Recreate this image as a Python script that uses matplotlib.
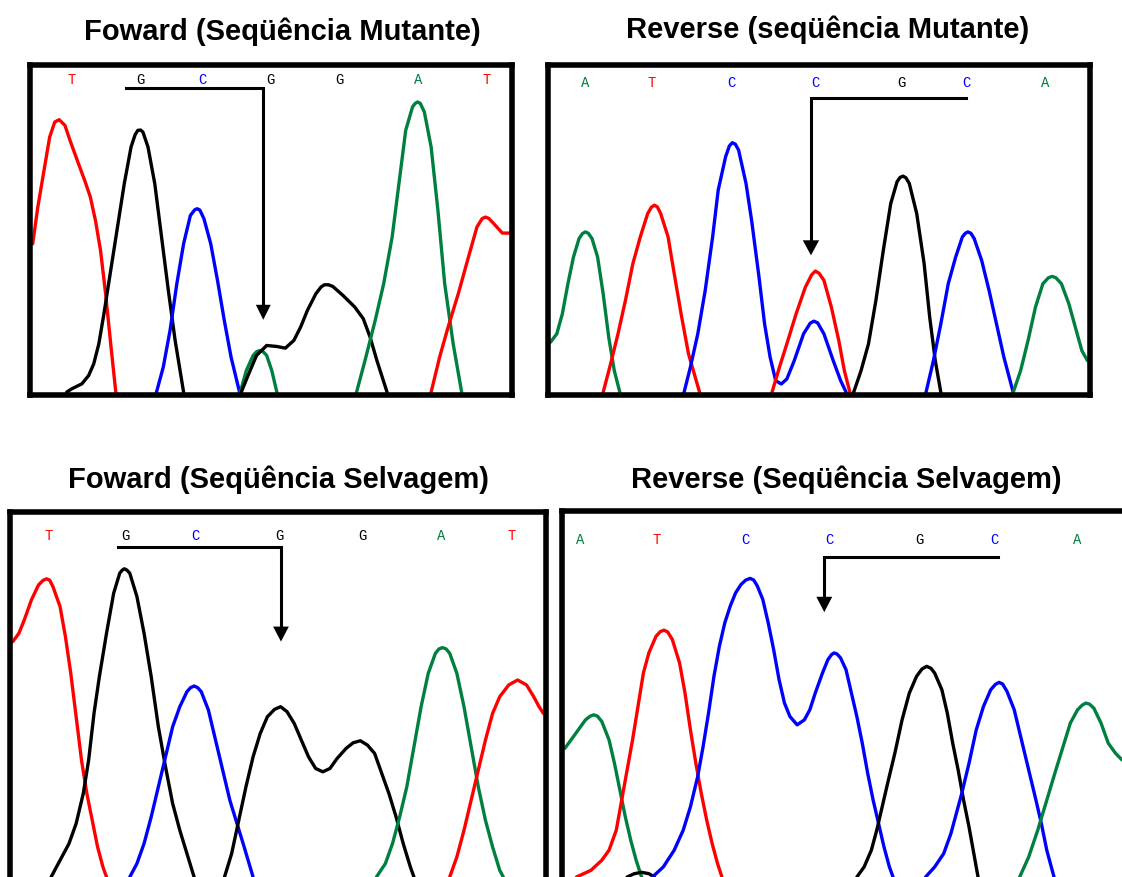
import matplotlib
matplotlib.use("Agg")
import matplotlib.pyplot as plt

W, H = 1122, 877
DPI = 100

# ---------------- Data (scan position, signal intensity) ----------------
# Panel 1: Foward (Seqüência Mutante)
p1_T1 = [(0,445),(15,555),(30,645),(50,765),(65,810),(78,817),(95,800),(110,755),(135,685),(155,630),(170,585),(185,515),(200,425),(215,295),(230,145),(245,0)]
p1_G1 = [(100,0),(115,10),(145,25),(165,50),(180,85),(195,145),(210,235),(230,365),(250,495),(270,625),(290,735),(302,772),(310,785),(318,786),(325,780),(340,735),(360,625),(380,465),(400,305),(420,155),(445,0)]
p1_C1 = [(365,0),(385,75),(405,185),(425,325),(445,445),(465,530),(478,547),(485,550),(493,546),(505,520),(525,445),(545,335),(565,215),(585,105),(610,0)]
p1_A1 = [(612,0),(630,65),(650,110),(660,121),(670,125),(680,121),(690,110),(705,65),(720,0)]
p1_G2 = [(615,0),(635,50),(660,110),(690,140),(720,137),(745,132),(770,155),(790,195),(810,245),(835,295),(850,315),(860,322),(872,322),(885,317),(915,290),(950,255),(975,220),(995,165),(1015,95),(1045,0)]
p1_A2 = [(955,0),(980,95),(1010,215),(1035,325),(1060,465),(1080,625),(1100,785),(1120,855),(1128,866),(1135,870),(1143,866),(1155,840),(1175,735),(1195,545),(1215,325),(1240,145),(1265,0)]
p1_T2 = [(1175,0),(1200,105),(1225,195),(1255,295),(1285,405),(1310,495),(1325,520),(1335,525),(1345,521),(1360,505),(1385,477),(1405,477)]
p1_bases = ["T", "G", "C", "G", "G", "A", "T"]
p1_base_pos = [115, 318, 500, 700, 905, 1138, 1338]

# Panel 2: Reverse (seqüência Mutante)
p2_A1 = [(0,150),(17,175),(32,235),(47,325),(62,405),(77,460),(86,475),(94,480),(102,476),(112,460),(127,405),(142,295),(157,165),(172,65),(187,0)]
p2_T1 = [(142,0),(162,85),(182,175),(202,275),(222,385),(242,465),(262,535),(272,554),(280,560),(288,555),(297,535),(317,465),(332,365),(352,235),(372,115),(402,0)]
p2_C1 = [(360,0),(377,75),(397,175),(417,305),(437,465),(452,605),(472,705),(482,737),(490,747),(498,743),(507,725),(527,625),(542,515),(562,345),(577,205),(592,105),(607,35),(622,25),(637,40),(657,95),(682,175),(700,207),(710,213),(720,208),(737,175),(762,95),(782,35),(797,0)]
p2_T2 = [(597,0),(617,75),(637,145),(662,235),(687,315),(704,352),(714,363),(724,356),(737,335),(757,255),(777,155),(792,65),(807,0)]
p2_G1 = [(817,0),(837,65),(857,145),(877,275),(897,425),(917,565),(934,630),(942,643),(950,647),(958,642),(967,625),(987,535),(1007,385),(1022,225),(1037,95),(1052,0)]
p2_C2 = [(1012,0),(1032,95),(1052,205),(1072,325),(1092,405),(1110,465),(1118,476),(1125,480),(1133,476),(1142,460),(1162,395),(1182,305),(1202,205),(1222,105),(1247,0)]
p2_A2 = [(1247,0),(1267,65),(1287,155),(1307,255),(1327,325),(1342,343),(1352,347),(1362,343),(1377,325),(1397,265),(1417,185),(1432,125),(1447,95)]
p2_bases = ["A", "T", "C", "C", "G", "C", "A"]
p2_base_pos = [94, 274, 487, 715, 947, 1122, 1334]

# Panel 3: Foward (Seqüência Selvagem)
p3_T1 = [(8,705),(25,730),(40,770),(60,830),(80,875),(92,888),(102,893),(111,889),(120,870),(140,810),(155,720),(170,610),(185,480),(200,350),(215,250),(230,170),(245,90),(260,30),(270,0)]
p3_G1 = [(115,0),(140,50),(165,100),(185,160),(205,250),(220,350),(235,490),(250,600),(270,730),(290,850),(307,910),(314,919),(320,923),(327,919),(335,910),(355,840),(375,730),(395,600),(415,450),(435,330),(455,220),(475,140),(495,70),(515,0)]
p3_C1 = [(335,0),(355,40),(375,100),(395,180),(415,270),(435,360),(455,450),(475,510),(495,555),(505,567),(515,572),(525,567),(535,555),(555,500),(575,410),(595,320),(615,230),(635,160),(655,90),(680,0)]
p3_G2 = [(600,0),(620,70),(640,170),(660,270),(680,360),(700,430),(720,480),(740,502),(757,510),(775,495),(795,460),(815,410),(835,360),(855,325),(875,315),(895,325),(915,355),(940,385),(960,402),(980,408),(1000,395),(1020,370),(1040,310),(1060,250),(1080,180),(1100,100),(1120,30),(1130,0)]
p3_A1 = [(1025,0),(1050,40),(1070,100),(1090,180),(1110,270),(1130,390),(1150,510),(1170,610),(1190,670),(1200,683),(1210,687),(1220,683),(1230,670),(1250,610),(1270,510),(1290,390),(1310,270),(1330,170),(1350,90),(1370,20),(1380,0)]
p3_T2 = [(1230,0),(1250,60),(1270,140),(1290,230),(1310,320),(1330,410),(1350,490),(1370,540),(1395,575),(1420,590),(1445,575),(1465,540),(1480,510),(1492,490)]
p3_bases = ["T", "G", "C", "G", "G", "A", "T"]
p3_base_pos = [107, 322, 518, 755, 985, 1205, 1403]

# Panel 4: Reverse (Seqüência Selvagem)
p4_A1 = [(8,385),(25,410),(45,440),(65,470),(78,481),(88,485),(98,481),(110,465),(130,410),(145,340),(160,260),(175,180),(190,110),(205,50),(220,0)]
p4_T1 = [(40,0),(80,20),(110,50),(130,80),(150,140),(165,230),(180,320),(195,410),(210,510),(225,610),(240,670),(260,720),(272,734),(282,738),(292,733),(305,710),(325,640),(340,550),(355,440),(370,340),(385,250),(400,170),(415,100),(430,40),(442,0)]
p4_G0 = [(180,0),(200,10),(220,14),(240,10),(255,0)]
p4_C1 = [(250,0),(280,30),(310,80),(335,140),(355,210),(375,300),(390,390),(405,490),(420,600),(435,690),(450,760),(465,810),(480,850),(495,875),(508,888),(520,893),(530,888),(540,870),(555,830),(570,760),(585,680),(600,590),(615,520),(630,480),(650,455),(670,470),(685,500),(700,550),(720,610),(735,650),(745,665),(752,670),(760,667),(770,655),(785,620),(800,550),(815,480),(830,400),(845,310),(860,230),(875,160),(890,90),(905,30),(915,0)]
p4_G1 = [(815,0),(835,30),(855,80),(870,140),(885,210),(900,280),(920,370),(940,470),(960,550),(980,600),(995,622),(1008,630),(1020,624),(1030,610),(1050,560),(1065,490),(1080,400),(1095,320),(1110,230),(1125,150),(1140,60),(1150,0)]
p4_C2 = [(1005,0),(1030,30),(1055,70),(1075,130),(1090,190),(1105,250),(1125,340),(1145,440),(1165,510),(1185,560),(1198,576),(1208,582),(1218,577),(1230,555),(1250,500),(1270,410),(1290,320),(1310,230),(1325,160),(1340,80),(1360,0)]
p4_A2 = [(1265,0),(1290,60),(1315,140),(1340,230),(1365,320),(1385,390),(1405,460),(1425,500),(1438,514),(1448,520),(1458,517),(1470,505),(1490,460),(1510,400),(1530,370),(1548,350)]
p4_bases = ["A", "T", "C", "C", "G", "C", "A"]
p4_base_pos = [50, 262, 508, 738, 988, 1195, 1423]

titles = ["Foward (Seqüência Mutante)", "Reverse (seqüência Mutante)",
          "Foward (Seqüência Selvagem)", "Reverse (Seqüência Selvagem)"]

# ---------------- Styling ----------------
COL = {"A": "#008040", "C": "#0000FF", "G": "#000000", "T": "#FF0000"}

fig = plt.figure(figsize=(W / DPI, H / DPI), dpi=DPI)
fig.patch.set_facecolor("white")


def make_ax(left, right, top, bottom, xlim, ylim, hide=()):
    ax = fig.add_axes([left / W, 1 - bottom / H, (right - left) / W, (bottom - top) / H])
    ax.set_xlim(*xlim)
    ax.set_ylim(*ylim)
    ax.set_xticks([])
    ax.set_yticks([])
    for name, sp in ax.spines.items():
        sp.set_linewidth(4.0)
        sp.set_color("black")
        sp.set_zorder(5)
        if name in hide:
            sp.set_visible(False)
    ax.set_facecolor("white")
    return ax


def draw_traces(ax, traces):
    for base, pts in traces:
        xs = [p[0] for p in pts]
        ys = [p[1] for p in pts]
        ax.plot(xs, ys, color=COL[base], lw=2.4, solid_capstyle="round",
                solid_joinstyle="round", zorder=2)


def draw_bases(ax, bases, pos, y):
    for b, x in zip(bases, pos):
        ax.text(x, y, b, color=COL[b], ha="center", va="center",
                fontsize=10, family="Liberation Mono", zorder=3)


def draw_bracket(ax, x_start, x_arrow, y_line, y_head, y_tip, hw):
    ax.plot([x_start, x_arrow, x_arrow], [y_line, y_line, y_head],
            color="black", lw=2.2, solid_joinstyle="miter", zorder=4)
    ax.fill([x_arrow - hw, x_arrow + hw, x_arrow], [y_head, y_head, y_tip],
            color="black", lw=0, zorder=4)


# Panel 1
ax1 = make_ax(30, 511.5, 65, 394.5, (-8, 1412), (-7, 981))
draw_traces(ax1, [("T", p1_T1), ("G", p1_G1), ("C", p1_C1), ("A", p1_A1),
                  ("G", p1_G2), ("A", p1_A2), ("T", p1_T2)])
draw_bases(ax1, p1_bases, p1_base_pos, 935)
draw_bracket(ax1, 275, 680, 912, 262, 217, 22)

# Panel 2
ax2 = make_ax(547.5, 1090, 64.5, 394.7, (-8, 1454), (-7, 981))
draw_traces(ax2, [("A", p2_A1), ("T", p2_T1), ("C", p2_C1), ("T", p2_T2),
                  ("G", p2_G1), ("C", p2_C2), ("A", p2_A2)])
draw_bases(ax2, p2_bases, p2_base_pos, 925)
draw_bracket(ax2, 1120, 702, 880, 455, 410, 22)

# Panel 3
ax3 = make_ax(10, 545.5, 511.7, 877, (0, 1498), (0, 1094), hide=("bottom",))
draw_traces(ax3, [("T", p3_T1), ("G", p3_G1), ("C", p3_C1), ("G", p3_G2),
                  ("A", p3_A1), ("T", p3_T2)])
draw_bases(ax3, p3_bases, p3_base_pos, 1022)
draw_bracket(ax3, 303, 758, 988, 750, 705, 22)

# Panel 4
ax4 = make_ax(562, 1130, 510.5, 877, (0, 1570), (0, 1096), hide=("bottom", "right"))
draw_traces(ax4, [("A", p4_A1), ("T", p4_T1), ("G", p4_G0), ("C", p4_C1),
                  ("G", p4_G1), ("C", p4_C2), ("A", p4_A2)])
draw_bases(ax4, p4_bases, p4_base_pos, 1008)
draw_bracket(ax4, 1205, 725, 958, 838, 792, 22)

# Titles
title_pos = [(282, 32), (828, 30), (279, 480), (846, 480)]
for t, (x, y) in zip(titles, title_pos):
    fig.text(x / W, 1 - y / H, t, ha="center", va="center", fontsize=21,
             fontweight="bold", family="Liberation Sans")

fig.savefig("out.png", dpi=DPI, facecolor="white")
